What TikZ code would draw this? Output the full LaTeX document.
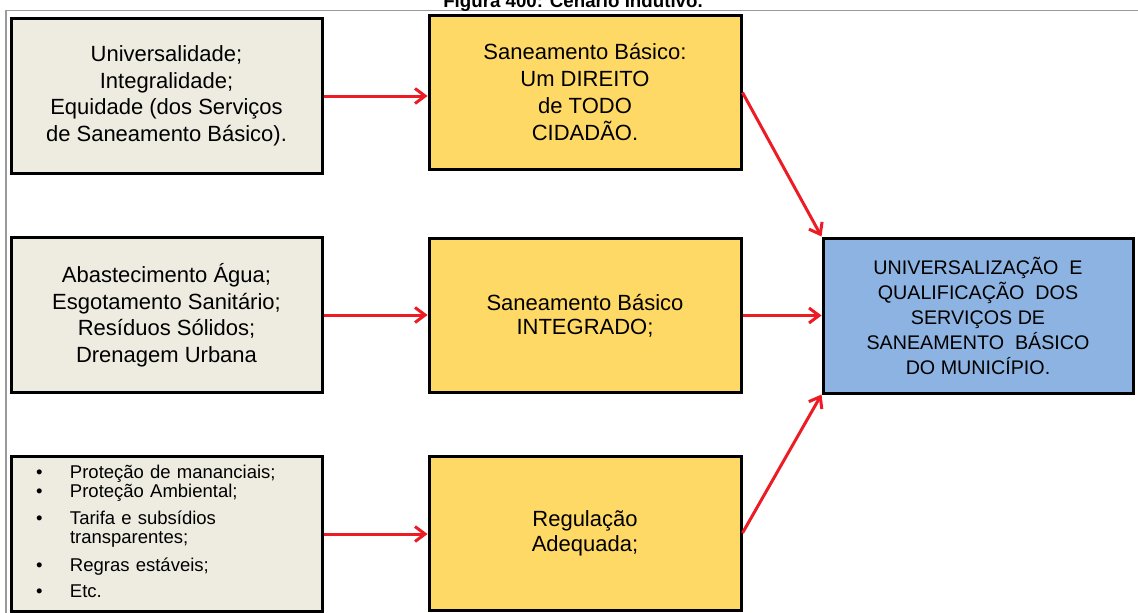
\documentclass[tikz,border=0pt]{standalone}
\usepackage{fontspec}
\setmainfont{Liberation Sans}
\usetikzlibrary{arrows.meta}
\definecolor{boxbeige}{HTML}{EEECE1}
\definecolor{boxyellow}{HTML}{FFD966}
\definecolor{boxblue}{HTML}{8DB3E2}
\definecolor{arrowred}{HTML}{ED1C24}
\definecolor{framegray}{HTML}{9A9A9A}

\begin{document}
\begin{tikzpicture}[x=1pt, y=-1pt,
    inbox/.style={draw, line width=3pt, fill=boxbeige, minimum width=311pt, minimum height=155pt, align=center, font=\fontsize{22}{26.5}\selectfont},
    midbox/.style={inbox, fill=boxyellow, minimum width=312pt, minimum height=154pt, font=\fontsize{22}{25}\selectfont},
    goalbox/.style={inbox, fill=boxblue, minimum width=310pt, font=\fontsize{19.7}{25}\selectfont},
    link/.style={-{Straight Barb[length=10pt,width=15pt]}, line width=3pt, arrowred}]
        \useasboundingbox (0,0) rectangle (1138,613);

        % Page frame and caption (cut off at the top)
        \draw[framegray, line width=1.5pt] (6,613) -- (6,10.5) -- (1138,10.5);
        \node[anchor=base, font=\fontsize{18.7}{20}\selectfont\bfseries] (title) at (573,7.5) {Figura 400: Cenário Indutivo.};

        % Left column
        \node[inbox] (princ) at (166.5,96) {Universalidade;\\Integralidade;\\Equidade (dos Serviços\\de Saneamento Básico).};
        \node[inbox] (servicos) at (166.5,315) {Abastecimento Água;\\Esgotamento Sanitário;\\Resíduos Sólidos;\\Drenagem Urbana};
        \node[inbox, align=left, text width=261pt, inner xsep=25pt, font=\fontsize{18.5}{19.5}\selectfont] (acoes) at (166.5,534) {%
          \begin{tabular}{@{}p{34pt}@{}l@{}}
            \textbullet & Proteção de mananciais;\\
            \textbullet & Proteção Ambiental;\\[7pt]
            \textbullet & Tarifa e subsídios\\
                        & transparentes;\\[8pt]
            \textbullet & Regras estáveis;\\[7pt]
            \textbullet & Etc.
          \end{tabular}};

        % Middle column
        \node[midbox, font=\fontsize{22}{27}\selectfont] (direito) at (585,92.5) {Saneamento Básico:\\Um DIREITO\\de TODO\\CIDADÃO.};
        \node[midbox, font=\fontsize{22}{24}\selectfont] (integrado) at (585,315.5) {Saneamento Básico\\INTEGRADO;};
        \node[midbox] (regulacao) at (585,533) {Regulação\\Adequada;};

        % Goal
        \node[goalbox] (meta) at (978,315.5) {UNIVERSALIZAÇÃO\ \ E\\QUALIFICAÇÃO\ \ DOS\\SERVIÇOS DE\\SANEAMENTO\ \ BÁSICO\\DO MUNICÍPIO.};

        % Arrows
        \draw[link] (princ.east) -- (princ.east -| direito.west);
        \draw[link] (servicos.east) -- (servicos.east -| integrado.west);
        \draw[link] (acoes.east) -- (acoes.east -| regulacao.west);
        \draw[link] (direito.east) -- (meta.north west);
        \draw[link] (integrado.east) -- (meta.west);
        \draw[link] (regulacao.east) -- (meta.south west);
      \end{tikzpicture}
\end{document}
